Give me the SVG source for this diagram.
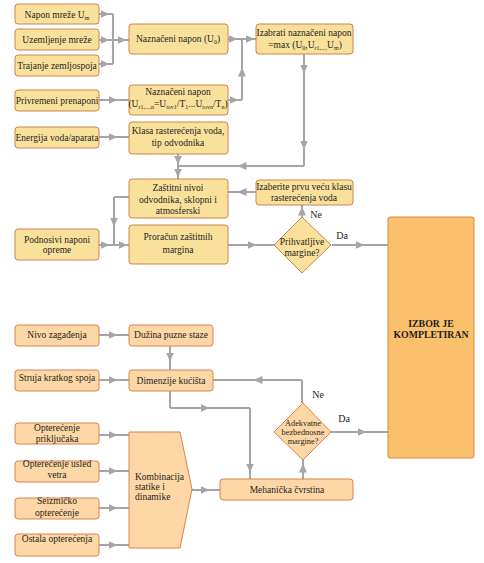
<svg xmlns="http://www.w3.org/2000/svg" width="484" height="563" viewBox="0 0 484 563" font-family="'Liberation Serif', 'DejaVu Serif', serif">
<defs>
<marker id="ah" markerUnits="userSpaceOnUse" markerWidth="9" markerHeight="9" refX="4.5" refY="4" orient="auto" viewBox="0 0 9 8">
<path d="M0,0 L9,4 L0,8 z" fill="#a8a4a6"/>
</marker>
<style>
.y{fill:#f9e19c;stroke:#c98550;stroke-width:1}
.p{fill:#fdd7a5;stroke:#d8834e;stroke-width:1}
.b{fill:#fac06b;stroke:#cf8a4c;stroke-width:1}
.c{fill:none;stroke:#a8a4a6;stroke-width:2}
.a{fill:none;stroke:#a8a4a6;stroke-width:2;marker-mid:url(#ah)}
text{font-family:'Liberation Serif','DejaVu Serif',serif;font-size:9.5px;fill:#1e1e1e;text-anchor:middle}
.s{font-size:6px}
.sm{font-size:8.3px}
.bold{font-weight:bold;font-size:9.8px}
.l{text-anchor:start}
.lab{font-size:10px}
</style>
</defs>
<g id="connectors">
<path class="a" d="M99,14 H105 H113"/>
<path class="a" d="M99,40 H105 H113"/>
<path class="a" d="M99,64 H105 H113"/>
<path class="c" d="M113,14 V64"/>
<path class="a" d="M113,40 H122 H129"/>
<path class="a" d="M228,39 H233 H242"/>
<path class="a" d="M242,39 H250 H256"/>
<path class="a" d="M228,100 H234 H242"/>
<path class="a" d="M242,100 V72 V39"/>
<path class="a" d="M99,100 H113 H129"/>
<path class="a" d="M99,137 H113 H129"/>
<path class="a" d="M304,54 V69 V145 V166"/>
<path class="a" d="M304,166 H242 H178"/>
<path class="a" d="M178,154 V160 V166"/>
<path class="a" d="M178,166 V173 V179"/>
<path class="a" d="M256,192 H242 H228"/>
<path class="c" d="M129,197 H114"/>
<path class="a" d="M114,197 V222 V245"/>
<path class="a" d="M99,245 H105 H114"/>
<path class="a" d="M114,245 H123 H129"/>
<path class="a" d="M228,245 H252 H274"/>
<path class="a" d="M332,245 H360 H388"/>
<path class="a" d="M302,217 V211 V205"/>
<path class="a" d="M99,335 H113 H129"/>
<path class="a" d="M170,346 V357 V370"/>
<path class="a" d="M99,380 H113 H129"/>
<path class="c" d="M302,403 V380"/>
<path class="a" d="M302,380 H258 H213"/>
<path class="c" d="M170,391 V408"/>
<path class="a" d="M170,408 H205 H250"/>
<path class="a" d="M250,408 V468 V479"/>
<path class="a" d="M303,479 V468 V460"/>
<path class="a" d="M331,432 H362 H388"/>
<path class="a" d="M192,490 H205 H220"/>
<path class="a" d="M99,435 H113 H129"/>
<path class="a" d="M99,471 H113 H129"/>
<path class="a" d="M99,508 H113 H129"/>
<path class="a" d="M99,545 H113 H129"/>
<text class="lab" x="316" y="218">Ne</text>
<text class="lab" x="342" y="239">Da</text>
<text class="lab" x="318" y="398">Ne</text>
<text class="lab" x="344" y="422">Da</text>
</g>
<g id="n-napon-mreze"><rect class="y" x="15" y="4" width="84" height="20" rx="3"/><text x="57" y="17.5">Napon mreže U<tspan class="s" dy="2">m</tspan></text></g>
<g id="n-uzemljenje"><rect class="y" x="15" y="29" width="84" height="21" rx="3"/><text x="57" y="42.5">Uzemljenje mreže</text></g>
<g id="n-trajanje"><rect class="y" x="15" y="55" width="84" height="21" rx="3"/><text x="57" y="68.5">Trajanje zemljospoja</text></g>
<g id="n-naznaceni-u0"><rect class="y" x="129" y="24" width="99" height="30" rx="3"/><text x="178" y="42">Naznačeni napon (U<tspan class="s" dy="2">0</tspan><tspan dy="-2">)</tspan></text></g>
<g id="n-izabrati"><rect class="y" x="256" y="24" width="97" height="30" rx="3"/><text x="304" y="36">Izabrati naznačeni napon</text><text x="305" y="48">=max (U<tspan class="s" dy="2">0</tspan><tspan dy="-2">,U</tspan><tspan class="s" dy="2">r1,...,</tspan><tspan dy="-2">U</tspan><tspan class="s" dy="2">m</tspan><tspan dy="-2">)</tspan></text></g>
<g id="n-privremeni"><rect class="y" x="15" y="90" width="84" height="21" rx="3"/><text x="57" y="103.5">Privremeni prenaponi</text></g>
<g id="n-naznaceni-ur"><rect class="y" x="129" y="85" width="99" height="30" rx="3"/><text x="178" y="95">Naznačeni napon</text><text x="178" y="107">(U<tspan class="s" dy="2">r1,...,n</tspan><tspan dy="-2">=U</tspan><tspan class="s" dy="2">tov1</tspan><tspan dy="-2">/T</tspan><tspan class="s" dy="2">1</tspan><tspan dy="-2">...U</tspan><tspan class="s" dy="2">tovn</tspan><tspan dy="-2">/T</tspan><tspan class="s" dy="2">n</tspan><tspan dy="-2">)</tspan></text></g>
<g id="n-energija"><rect class="y" x="15" y="127" width="84" height="21" rx="3"/><text x="57" y="140.5">Energija voda/aparata</text></g>
<g id="n-klasa"><rect class="y" x="129" y="122" width="99" height="32" rx="3"/><text x="178" y="133.5">Klasa rasterećenja voda,</text><text x="178" y="146">tip odvodnika</text></g>
<g id="n-zastitni"><rect class="y" x="129" y="179" width="99" height="39" rx="3"/><text x="178" y="191">Zaštitni nivoi</text><text x="178" y="202.5">odvodnika, sklopni i</text><text x="178" y="214">atmosferski</text></g>
<g id="n-izaberite"><rect class="y" x="256" y="180" width="97" height="25" rx="3"/><text x="304" y="189.5">Izaberite prvu veću klasu</text><text x="304" y="200.5">rasterećenja voda</text></g>
<g id="n-podnosivi"><rect class="y" x="15" y="229" width="84" height="31" rx="3"/><text x="57" y="243">Podnosivi naponi</text><text x="57" y="252.5">opreme</text></g>
<g id="n-proracun"><rect class="y" x="129" y="225" width="99" height="39" rx="3"/><text x="178" y="240">Proračun zaštitnih</text><text x="178" y="252.5">margina</text></g>
<g id="n-prihvatljive"><polygon class="y" points="302,217 331,245 302,273 274,245"/><text x="302" y="245">Prihvatljive</text><text x="302" y="256">margine?</text></g>
<g id="n-izbor"><rect class="b" x="388" y="217" width="86" height="241" rx="2"/><text class="bold" x="431" y="327">IZBOR JE</text><text class="bold" x="431" y="338">KOMPLETIRAN</text></g>
<g id="n-nivo"><rect class="p" x="15" y="325" width="84" height="21" rx="3"/><text x="57" y="338">Nivo zagađenja</text></g>
<g id="n-duzina"><rect class="p" x="129" y="325" width="84" height="21" rx="3"/><text x="171" y="338">Dužina puzne staze</text></g>
<g id="n-struja"><rect class="p" x="15" y="370" width="84" height="21" rx="3"/><text x="57" y="381">Struja kratkog spoja</text></g>
<g id="n-dimenzije"><rect class="p" x="129" y="370" width="84" height="21" rx="3"/><text x="171" y="383.5">Dimenzije kućišta</text></g>
<g id="n-adekvatne"><polygon class="p" points="303,403 331,432 303,460 274,432"/><text class="sm" x="303" y="426">Adekvatne</text><text class="sm" x="303" y="435">bezbednosne</text><text class="sm" x="303" y="444">margine?</text></g>
<g id="n-opt-prik"><rect class="p" x="15" y="423" width="84" height="21" rx="3"/><text x="57" y="431">Opterećenje</text><text x="57" y="442">priključaka</text></g>
<g id="n-opt-vetra"><rect class="p" x="15" y="461" width="84" height="21" rx="3"/><text x="57" y="467">Opterećenje usled</text><text x="57" y="478">vetra</text></g>
<g id="n-seizmicko"><rect class="p" x="15" y="498" width="84" height="21" rx="3"/><text x="57" y="504">Seizmičko</text><text x="57" y="516">opterećenje</text></g>
<g id="n-ostala"><rect class="p" x="15" y="534" width="84" height="22" rx="3"/><text x="57" y="542">Ostala opterećenja</text></g>
<g id="n-kombinacija"><polygon class="p" points="129,432 180,432 192,489 180,548 129,548"/><text class="l" x="135" y="480">Kombinacija</text><text class="l" x="135" y="490">statike i</text><text class="l" x="135" y="500">dinamike</text></g>
<g id="n-mehanicka"><rect class="p" x="220" y="479" width="133" height="21" rx="3"/><text x="287" y="492.5">Mehanička čvrstina</text></g>
</svg>
